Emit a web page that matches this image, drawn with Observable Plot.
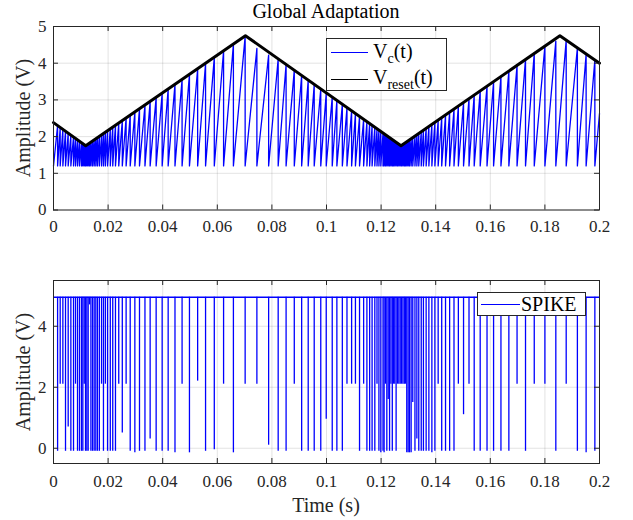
<!DOCTYPE html>
<html>
<head>
<meta charset="utf-8">
<script src="https://cdn.jsdelivr.net/npm/d3@7"></script>
<script src="https://cdn.jsdelivr.net/npm/@observablehq/plot@0.6"></script>
<style>
  html, body { margin: 0; padding: 0; background: #fff; }
  #wrap { position: relative; width: 633px; height: 520px; background: #fff; font-family: "Liberation Serif", "Times New Roman", serif; color: #262626; overflow: hidden; }
  #wrap svg, #wrap svg text { font-family: "Liberation Serif", "Times New Roman", serif !important; }
  .abs { position: absolute; white-space: nowrap; }
  .ylab { position: absolute; transform: translate(-50%, -50%) rotate(-90deg); font-size: 20px; white-space: nowrap; }
  .legend { position: absolute; background: #fff; border: 1px solid #262626; box-sizing: border-box; font-size: 20px; color: #000; }
  .legend .sw { position: absolute; height: 0; }
  .legend .lt { position: absolute; line-height: 20px; }
  sub { font-size: 14px; vertical-align: -5px; line-height: 0; }
</style>
</head>
<body>
<div id="wrap">
  <div class="abs" style="left:53px;width:546px;top:0px;text-align:center;font-size:20px;color:#000;">Global Adaptation</div>
  <div id="topChart" class="abs" style="left:0;top:0;"></div>
  <div id="botChart" class="abs" style="left:0;top:250px;"></div>
  <div class="ylab" style="left:23px;top:118px;">Amplitude (V)</div>
  <div class="ylab" style="left:23px;top:372px;">Amplitude (V)</div>
  <div class="abs" style="left:53px;width:546px;top:494px;text-align:center;font-size:20px;">Time (s)</div>
  <div class="legend" style="left:326px;top:38px;width:121px;height:53px;">
    <div class="sw" style="left:4px;width:37px;top:13px;border-top:1px solid #0000ff;"></div>
    <div class="lt" style="left:46px;top:2px;">V<sub>c</sub>(t)</div>
    <div class="sw" style="left:4px;width:37px;top:40px;border-top:1px solid #000;"></div>
    <div class="lt" style="left:46px;top:28px;">V<sub>reset</sub>(t)</div>
  </div>
  <div class="legend" style="left:477px;top:292px;width:109px;height:24px;">
    <div class="sw" style="left:3px;width:39px;top:11px;border-top:1px solid #0000ff;"></div>
    <div class="lt" style="left:43px;top:1px;">SPIKE</div>
  </div>
</div>
<script>
// ---------------- data ----------------
const xTicks = [0, 0.02, 0.04, 0.06, 0.08, 0.1, 0.12, 0.14, 0.16, 0.18, 0.2];
const yTicksTop = [0, 1, 2, 3, 4, 5];
const yTicksBot = [0, 2, 4];

// V_reset(t) triangle vertices
const resetT = [0, 0.0118, 0.0703, 0.1273, 0.1855, 0.2];
const resetV = [2.38, 1.75, 4.75, 1.75, 4.75, 4.0];

// reset (spike) instants (s)
const spikeT = [
  0.0015, 0.00245, 0.00343, 0.0044, 0.00538, 0.00636, 0.00733, 0.00806, 0.0088, 0.00953,
  0.01026, 0.01075, 0.01125, 0.01173, 0.01222, 0.0127, 0.0132, 0.0137, 0.0143, 0.0149,
  0.0155, 0.0161, 0.0168, 0.0176, 0.0183, 0.019, 0.0198, 0.0208, 0.0217, 0.0227,
  0.0239, 0.0252, 0.0266, 0.0281, 0.0298, 0.0315, 0.0335, 0.0354, 0.0376, 0.0398,
  0.042, 0.0445, 0.0471, 0.0498, 0.0528, 0.0557, 0.0589, 0.0623, 0.0659, 0.0702,
  0.0745, 0.0788, 0.0823, 0.0852, 0.0882, 0.0909, 0.0933, 0.0955, 0.0979, 0.0999,
  0.1021, 0.1038, 0.1058, 0.1075, 0.1092, 0.1106, 0.1121, 0.1136, 0.1148, 0.1158,
  0.1167, 0.1177, 0.1185, 0.1192, 0.1199, 0.1207, 0.1211, 0.1216, 0.1221, 0.1226,
  0.1231, 0.1236, 0.1241, 0.1245, 0.125, 0.1255, 0.126, 0.1265, 0.127, 0.1275,
  0.128, 0.1285, 0.1289, 0.1294, 0.1299, 0.1304, 0.131, 0.1316, 0.1324, 0.1331,
  0.1338, 0.1347, 0.1355, 0.1365, 0.1375, 0.1386, 0.1397, 0.1409, 0.1422, 0.1436,
  0.1451, 0.1467, 0.1483, 0.1502, 0.1522, 0.1541, 0.1563, 0.1588, 0.1612, 0.1639,
  0.1668, 0.1698, 0.1729, 0.1761, 0.18, 0.184, 0.1878, 0.1919, 0.1951, 0.1983
];
// V_c peak reached just before each reset (V)
const peakV = [
  2.30, 2.25, 2.20, 2.15, 2.09, 2.04, 1.99, 1.95, 1.91, 1.87,
  1.83, 1.81, 1.78, 1.76, 1.77, 1.80, 1.82, 1.85, 1.88, 1.91,
  1.94, 1.97, 2.01, 2.05, 2.08, 2.12, 2.16, 2.21, 2.26, 2.31,
  2.37, 2.44, 2.51, 2.59, 2.67, 2.76, 2.86, 2.96, 3.07, 3.18,
  3.30, 3.43, 3.56, 3.70, 3.85, 4.00, 4.16, 4.34, 4.52, 4.73,
  4.40, 4.22, 4.12, 3.97, 3.81, 3.67, 3.54, 3.42, 3.30, 3.19,
  3.08, 2.99, 2.88, 2.79, 2.70, 2.63, 2.55, 2.47, 2.41, 2.36,
  2.31, 2.26, 2.21, 2.18, 2.14, 2.10, 2.08, 2.05, 2.02, 2.00,
  1.97, 1.95, 1.92, 1.90, 1.87, 1.85, 1.82, 1.80, 1.77, 1.76,
  1.79, 1.81, 1.83, 1.86, 1.88, 1.91, 1.94, 1.97, 2.01, 2.05,
  2.09, 2.13, 2.17, 2.23, 2.28, 2.33, 2.39, 2.45, 2.52, 2.59,
  2.67, 2.75, 2.84, 2.93, 3.04, 3.14, 3.25, 3.38, 3.50, 3.64,
  3.79, 3.95, 4.11, 4.27, 4.47, 4.60, 4.63, 4.42, 4.25, 4.09
];
// lowest drawn value of each spike in the SPIKE trace (V)
const spikeLow = [
  -0.1, 2.1, 2.1, -0.1, 0.7, -0.1, -0.1, 2.1, -0.1, -0.1,
  -0.1, -0.1, 2.1, -0.1, -0.1, -0.1, 4.7, -0.1, -0.1, -0.1,
  -0.1, -0.1, -0.1, 2.1, -0.1, 2.1, -0.1, -0.1, -0.1, -0.1,
  2.1, 0.5, 2.1, -0.1, -0.15, -0.1, -0.1, 0.3, -0.1, -0.1,
  -0.1, -0.15, 2.1, -0.15, 2.2, -0.1, -0.05, 2.1, -0.15, 2.1,
  2.1, 0.1, -0.1, -0.1, 2.1, -0.1, -0.1, -0.1, -0.1, 0.95,
  -0.1, -0.1, -0.1, 2.1, 2.1, 2.1, -0.1, 2.1, -0.1, -0.1,
  -0.1, -0.1, 2.1, -0.1, -0.15, -0.1, -0.15, 2.1, -0.1, 1.6,
  -0.1, 2.1, -0.1, 2.1, 2.1, -0.1, 2.1, 2.1, 2.1, 2.1,
  2.1, 2.1, 2.1, -0.15, -0.15, -0.15, -0.15, 1.5, -0.1, 0.3,
  -0.1, -0.1, -0.1, -0.1, -0.1, -0.15, -0.1, 2.1, -0.1, -0.1,
  -0.1, -0.1, 2.1, 1.1, 2.1, -0.1, -0.1, -0.1, -0.1, -0.1,
  -0.1, 2.1, -0.1, 2.1, 2.1, -0.1, 2.1, -0.1, -0.15, -0.1
];
const vcLow = 1.2;      // level V_c resets to
const vcStart = 1.2;    // V_c at t = 0
const vcEnd = 2.63;     // V_c at t = 0.2
const spikeHigh = 4.95; // SPIKE idle level
const tStart = 0, tEnd = 0.2;

// ---------------- build tables ----------------
const reset = resetT.map((t, i) => ({t, v: resetV[i]}));
const vc = [{t: tStart, v: vcStart}];
spikeT.forEach((t, i) => { vc.push({t, v: peakV[i]}); vc.push({t, v: vcLow}); });
vc.push({t: tEnd, v: vcEnd});
const spikes = spikeT.map((t, i) => ({t, low: spikeLow[i]}));

const serif = "Liberation Serif";
const fmt = d => String(+d.toFixed(2));
const gridStyle = {stroke: "#262626", strokeOpacity: 0.13};
const ink = "#262626";

function innerTicks(xt, yt, plotW, plotH, len) {
  return [
    Plot.ruleX(xt, {x: d => d, stroke: ink, insetBottom: plotH - len}),
    Plot.ruleX(xt, {x: d => d, stroke: ink, insetTop: plotH - len}),
    Plot.ruleY(yt, {y: d => d, stroke: ink, insetRight: plotW - len}),
    Plot.ruleY(yt, {y: d => d, stroke: ink, insetLeft: plotW - len})
  ];
}

const common = {
  width: 633, marginLeft: 53, marginRight: 34,
  style: {fontFamily: serif, fontSize: "17px", color: ink, background: "transparent", overflow: "visible"}
};
const axisText = {tickSize: 0, tickFormat: fmt, label: null, fill: ink, fontFamily: serif, fontSize: 17};

// top panel
const topH = 250, topMT = 26, topMB = 40.5;
const topPlot = Plot.plot({
  ...common, height: topH, marginTop: topMT, marginBottom: topMB,
  x: {domain: [tStart, tEnd]},
  y: {domain: [0, 5]},
  marks: [
    Plot.gridX(xTicks, gridStyle),
    Plot.gridY(yTicksTop, gridStyle),
    Plot.line(vc, {x: "t", y: "v", stroke: "#0000ff", strokeWidth: 1.3}),
    Plot.line(reset, {x: "t", y: "v", stroke: "#000", strokeWidth: 3}),
    Plot.axisX(xTicks, {...axisText, tickPadding: 10}),
    Plot.axisY(yTicksTop, {...axisText, tickPadding: 7}),
    ...innerTicks(xTicks, yTicksTop, 633 - 53 - 34, topH - topMT - topMB, 5),
    Plot.frame({stroke: ink})
  ]
});
document.getElementById("topChart").append(topPlot);

// bottom panel
const botH = 270, botMT = 30, botMB = 57;
const botPlot = Plot.plot({
  ...common, height: botH, marginTop: botMT, marginBottom: botMB,
  x: {domain: [tStart, tEnd]},
  y: {domain: [-0.5, 5.5]},
  marks: [
    Plot.gridX(xTicks, gridStyle),
    Plot.gridY(yTicksBot, gridStyle),
    Plot.ruleY([spikeHigh], {stroke: "#0000ff", strokeWidth: 1.6}),
    Plot.ruleX(spikes, {x: "t", y1: "low", y2: spikeHigh, stroke: "#0000ff", strokeWidth: 1.3}),
    Plot.axisX(xTicks, {...axisText, tickPadding: 11}),
    Plot.axisY(yTicksBot, {...axisText, tickPadding: 7}),
    ...innerTicks(xTicks, yTicksBot, 633 - 53 - 34, botH - botMT - botMB, 5),
    Plot.frame({stroke: ink})
  ]
});
document.getElementById("botChart").append(botPlot);
</script>
</body>
</html>
